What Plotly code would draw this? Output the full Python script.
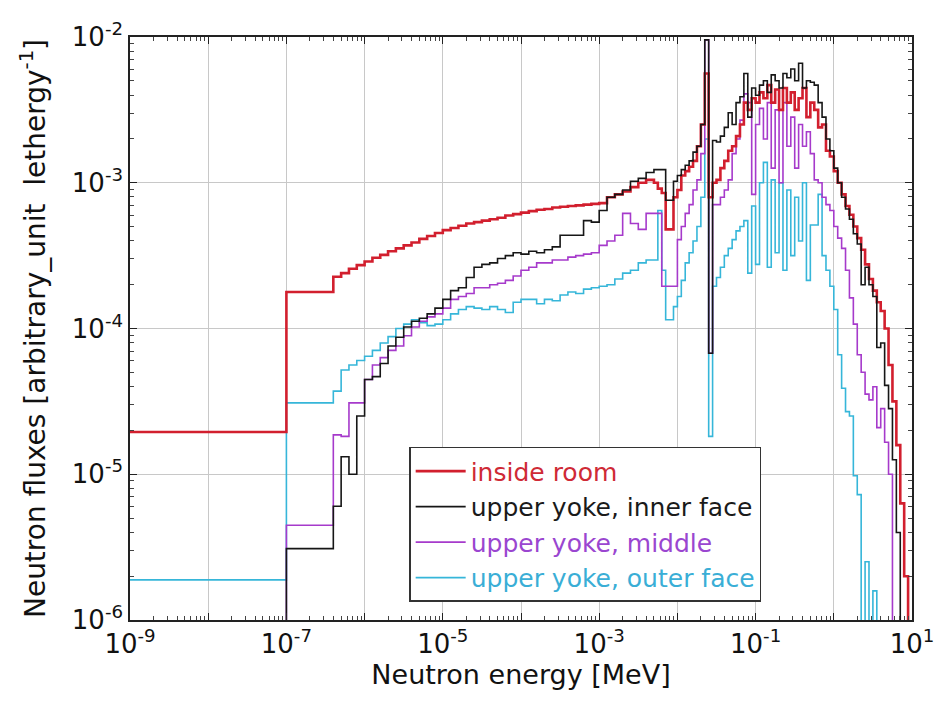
import numpy as np
import plotly.graph_objects as go

# ---------------- data ----------------
# bin edges, log10(E / MeV)
energy_edges_log10 = [
    -9.0, -7.0,
    -6.4, -6.3, -6.2, -6.1, -6.0, -5.9, -5.8, -5.7, -5.6, -5.5,
    -5.4, -5.3, -5.2, -5.1, -5.0, -4.9, -4.8, -4.7, -4.6, -4.5,
    -4.4, -4.3, -4.2, -4.1, -4.0, -3.9, -3.8, -3.7, -3.6, -3.5,
    -3.4, -3.3, -3.2, -3.1, -3.0, -2.9, -2.8, -2.7, -2.6, -2.5,
    -2.4, -2.3,
    -2.25, -2.2, -2.15, -2.1, -2.05, -2.0, -1.95, -1.9, -1.85, -1.8,
    -1.75, -1.7, -1.65, -1.6, -1.55, -1.5, -1.45, -1.4, -1.35, -1.3,
    -1.25, -1.2, -1.15, -1.1, -1.05, -1.0, -0.95, -0.9, -0.85, -0.8,
    -0.75, -0.7, -0.65, -0.6, -0.55, -0.5, -0.45, -0.4, -0.35, -0.3,
    -0.25, -0.2, -0.15, -0.1, -0.05, 0.0, 0.05, 0.1, 0.15, 0.2,
    0.25, 0.3, 0.35, 0.4, 0.45, 0.5, 0.55, 0.6, 0.65, 0.7,
    0.75, 0.8, 0.85, 0.9, 0.95, 1.0,
]

# flux per bin, log10(arbitrary unit / lethargy)
inside_room_log10 = (
    [-4.71, -3.75]
    + [-3.645, -3.62, -3.59, -3.565, -3.54, -3.515, -3.495, -3.47, -3.45, -3.43,
       -3.41, -3.385, -3.365, -3.345, -3.325, -3.31, -3.295, -3.28, -3.27, -3.26,
       -3.25, -3.24, -3.225, -3.215, -3.205, -3.195, -3.185, -3.18, -3.17, -3.165,
       -3.16, -3.155, -3.15, -3.145, -3.14, -3.10, -3.08, -3.06, -3.03, -3.00,
       -2.98]
    + [-3.0, -3.04, -3.07, -3.32, -3.32, -3.1, -3.05, -2.95, -2.92, -2.89,
       -2.85, -2.75, -2.6, -2.25, -3.1, -3.0, -2.98, -2.9, -2.85, -2.78,
       -2.75, -2.68, -2.6, -2.45, -2.5, -2.42, -2.45, -2.38, -2.42, -2.33,
       -2.45, -2.36, -2.5, -2.35, -2.45, -2.38, -2.5, -2.42, -2.35, -2.55,
       -2.45, -2.5, -2.62, -2.6, -2.78, -2.82, -2.92, -3.0, -3.08, -3.16,
       -3.22, -3.3, -3.38, -3.46, -3.56, -3.66, -3.74, -3.82, -3.88, -4.0,
       -4.25, -4.5, -4.8, -5.2, -5.7, -7.0]
)

inner_face_log10 = (
    [-8.0, -5.51]
    + [-5.22, -4.88, -5.0, -4.6, -4.35, -4.33, -4.24, -4.12, -4.06, -3.99,
       -3.95, -3.93, -3.9, -3.86, -3.8, -3.74, -3.72, -3.65, -3.58, -3.56,
       -3.55, -3.52, -3.5, -3.48, -3.49, -3.47, -3.48, -3.46, -3.44, -3.36,
       -3.36, -3.36, -3.26, -3.27, -3.19, -3.10, -3.08, -3.05, -2.99, -2.97,
       -2.93]
    + [-2.91, -2.91, -2.91, -3.12, -3.12, -2.99, -2.95, -2.91, -2.88, -2.85,
       -2.79, -2.75, -2.6, -2.02, -4.17, -2.71, -2.72, -2.68, -2.62, -2.52,
       -2.6, -2.45, -2.41, -2.25, -2.55, -2.35, -2.4, -2.33, -2.3, -2.38,
       -2.26, -2.3, -2.35, -2.25, -2.28, -2.22, -2.3, -2.18, -2.35, -2.3,
       -2.31, -2.33, -2.45, -2.55, -2.7, -2.78, -2.9, -3.0, -3.1, -3.18,
       -3.25, -3.35, -3.42, -3.7, -3.58, -3.7, -3.78, -4.13, -4.1, -4.39,
       -4.55, -4.9, -5.4, -7.0, -7.0, -7.0]
)

middle_log10 = (
    [-8.0, -5.35]
    + [-4.73, -4.74, -4.51, -4.51, -4.35, -4.25, -4.2, -4.15, -4.12, -4.05,
       -3.99, -3.95, -3.92, -3.9, -3.86, -3.8, -3.78, -3.76, -3.72, -3.72,
       -3.7, -3.69, -3.67, -3.64, -3.6, -3.58, -3.55, -3.55, -3.53, -3.53,
       -3.51, -3.5, -3.49, -3.48, -3.43, -3.4, -3.36, -3.21, -3.28, -3.32,
       -3.21]
    + [-3.21, -3.21, -3.71, -3.71, -3.71, -3.71, -3.39, -3.3, -3.21, -3.15,
       -3.05, -2.98, -2.8, -2.02, -4.17, -3.15, -3.15, -3.1, -3.05, -2.98,
       -2.8, -2.7, -2.57, -2.39, -2.45, -3.08, -2.6, -2.49, -2.7, -2.45,
       -2.9, -2.5, -3.0, -2.45, -2.75, -2.55, -2.9, -2.6, -2.75, -2.65,
       -2.8, -2.98, -3.0, -3.1, -3.15, -3.19, -3.3, -3.38, -3.45, -3.6,
       -3.79, -3.97, -4.18, -4.3, -4.45, -4.49, -4.4, -4.68, -4.55, -4.78,
       -5.0, -7.0, -7.0, -7.0, -7.0, -7.0]
)

outer_face_log10 = (
    [-5.725, -4.51]
    + [-4.43, -4.285, -4.25, -4.22, -4.19, -4.15, -4.1, -4.056, -4.0, -3.97,
       -3.94, -3.96, -3.98, -3.97, -3.94, -3.9, -3.87, -3.85, -3.86, -3.87,
       -3.85, -3.87, -3.89, -3.82, -3.8, -3.8, -3.83, -3.8, -3.81, -3.77,
       -3.75, -3.76, -3.73, -3.72, -3.71, -3.7, -3.66, -3.62, -3.6, -3.55,
       -3.53]
    + [-3.53, -3.19, -3.6, -3.94, -3.94, -3.85, -3.78, -3.67, -3.55, -3.48,
       -3.4, -3.3, -3.1, -2.7, -4.74, -3.71, -3.65, -3.58, -3.5, -3.45,
       -3.39, -3.33, -3.3, -3.26, -3.62, -3.16, -3.56, -3.0, -2.86, -3.58,
       -2.98, -3.48, -3.0, -3.6, -3.05, -3.5, -3.1, -3.4, -3.0, -3.67,
       -3.29, -3.29, -3.08, -3.5, -3.6, -3.71, -3.87, -4.18, -4.41, -4.57,
       -4.6, -5.01, -5.14, -7.0, -5.6, -7.0, -5.8, -7.0, -7.0, -7.0,
       -7.0, -7.0, -7.0, -7.0, -7.0, -7.0]
)

series_names = ["inside room", "upper yoke, inner face",
                "upper yoke, middle", "upper yoke, outer face"]
x_label_exponents = [-9, -7, -5, -3, -1, 1]
y_label_exponents = [-6, -5, -4, -3, -2]

# ---------------- figure ----------------
edges = 10.0 ** np.array(energy_edges_log10)


def step_values(log_vals):
    v = 10.0 ** np.array(log_vals)
    return np.append(v, v[-1])


colors = {
    "inside room": "#d21f2e",
    "upper yoke, inner face": "#161616",
    "upper yoke, middle": "#a63acb",
    "upper yoke, outer face": "#36b6d9",
}
text_colors = {
    "inside room": "#cf2a36",
    "upper yoke, inner face": "#1a1a1a",
    "upper yoke, middle": "#9a46d0",
    "upper yoke, outer face": "#3aaed6",
}
widths = {
    "inside room": 2.6,
    "upper yoke, inner face": 1.6,
    "upper yoke, middle": 1.6,
    "upper yoke, outer face": 1.6,
}
data_map = {
    "inside room": inside_room_log10,
    "upper yoke, inner face": inner_face_log10,
    "upper yoke, middle": middle_log10,
    "upper yoke, outer face": outer_face_log10,
}

fig = go.Figure()
draw_order = ["upper yoke, outer face", "upper yoke, middle",
              "inside room", "upper yoke, inner face"]
for name in draw_order:
    vals = data_map[name]
    assert len(vals) == len(energy_edges_log10) - 1, (name, len(vals))
    fig.add_trace(go.Scatter(
        x=edges, y=step_values(vals), mode="lines",
        line=dict(color=colors[name], width=widths[name], shape="hv"),
        name=f"<span style='color:{text_colors[name]}'>{name}</span>",
        legendrank=series_names.index(name) + 1,
    ))

font_family = "DejaVu Sans, Verdana, sans-serif"

all_x_dec = list(range(-9, 2))
x_tickvals = [10.0 ** k for k in all_x_dec]
x_ticktext = [f"10<sup>{k}</sup>" if k in x_label_exponents else "" for k in all_x_dec]
x_minor = [m * 10.0 ** k for k in range(-9, 1) for m in range(2, 10)]

y_tickvals = [10.0 ** k for k in y_label_exponents]
y_ticktext = [f"10<sup>{k}</sup>" for k in y_label_exponents]
y_minor = [m * 10.0 ** k for k in range(-6, -2) for m in range(2, 10)]

axis_common = dict(
    type="log", showline=True, linecolor="#222222", linewidth=1.5,
    mirror="ticks", ticks="inside", ticklen=7, tickcolor="#222222",
    showgrid=True, gridcolor="#c8c8c8", gridwidth=1, zeroline=False,
    tickfont=dict(family=font_family, size=26, color="#111111"),
)

fig.update_layout(
    width=946, height=702,
    margin=dict(l=130, r=26, t=37, b=82),
    paper_bgcolor="white", plot_bgcolor="white",
    font=dict(family=font_family, color="#111111"),
    xaxis=dict(
        **axis_common, range=[-9, 1], tickmode="array",
        tickvals=x_tickvals, ticktext=x_ticktext,
        minor=dict(tickmode="array", tickvals=x_minor, ticks="inside",
                   ticklen=4, tickcolor="#444444", showgrid=False),
        title=dict(text="Neutron energy [MeV]", standoff=0,
                   font=dict(family=font_family, size=27, color="#111111")),
    ),
    yaxis=dict(
        **axis_common, range=[-6, -2], tickmode="array",
        tickvals=y_tickvals, ticktext=y_ticktext,
        minor=dict(tickmode="array", tickvals=y_minor, ticks="inside",
                   ticklen=4, tickcolor="#444444", showgrid=False),
        title=dict(text="Neutron fluxes [arbitrary_unit\u00a0\u00a0lethergy<sup>-1</sup>]",
                   standoff=18,
                   font=dict(family=font_family, size=28, color="#111111")),
    ),
    showlegend=True,
    legend=dict(
        x=0.357, y=0.297, xanchor="left", yanchor="top",
        bgcolor="white", bordercolor="#333333", borderwidth=1.5,
        font=dict(family=font_family, size=25),
        itemwidth=50, tracegroupgap=0,
    ),
)

fig.write_html("out.html")
